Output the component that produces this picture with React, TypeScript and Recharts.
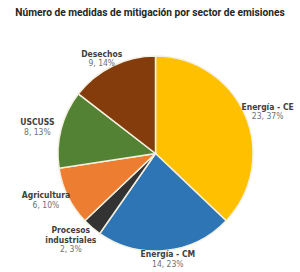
import { Cell, Pie, PieChart } from "recharts";

const categories = ["Energía - CE", "Energía - CM", "Procesos\nindustriales", "Agricultura", "USCUSS", "Desechos"];
const counts = [23, 14, 2, 6, 8, 9];
const pctLabels = ["37%", "23%", "3%", "10%", "13%", "14%"];
const colors = ["#FFC000", "#2E75B6", "#333333", "#ED7D31", "#548235", "#843C0C"];

const data = categories.map((name, i) => ({ name, value: counts[i], pct: pctLabels[i] }));

const RADIAN = Math.PI / 180;
const FONT = "'Liberation Sans Narrow', 'DejaVu Sans Condensed', Roboto, sans-serif";

function renderLabel(props: any) {
  const { cx, cy, midAngle, index } = props;
  const lines = data[index].name.split("\n");
  const all = [...lines, `${data[index].value}, ${data[index].pct}`];
  const push = (all.length - 2) * 8;
  const x = cx + (122 + push) * Math.cos(-midAngle * RADIAN);
  const y = cy + (106 + push) * Math.sin(-midAngle * RADIAN);
  const lh = 9.5;
  const top = y - ((all.length - 1) * lh) / 2 + 3;
  return (
    <text textAnchor="middle" fontSize={8.5} fontFamily={FONT}>
      {all.map((t, k) => (
        <tspan
          key={k}
          x={x}
          y={top + k * lh}
          fill={k < lines.length ? "#404040" : "#6f6f6f"}
          fontWeight={k < lines.length ? 700 : 400}
        >
          {t}
        </tspan>
      ))}
    </text>
  );
}

export default function App() {
  return (
    <div style={{ position: "absolute", left: 0, top: 0, width: 300, height: 272, background: "#ffffff" }}>
      <div
        style={{
          position: "absolute",
          top: 7,
          width: 300,
          textAlign: "center",
          whiteSpace: "nowrap",
          fontFamily: "Roboto, sans-serif",
          fontWeight: 700,
          fontSize: 10.2,
          color: "#262626",
        }}
      >
        Número de medidas de mitigación por sector de emisiones
      </div>
      <PieChart width={300} height={272} margin={{ top: 0, right: 0, bottom: 0, left: 0 }}>
        <Pie
          data={data}
          dataKey="value"
          cx={155.5}
          cy={153.5}
          outerRadius={97.5}
          startAngle={90}
          endAngle={-270}
          stroke="#f4f0e0"
          strokeWidth={1.5}
          label={renderLabel}
          labelLine={false}
          isAnimationActive={false}
        >
          {data.map((d, i) => (
            <Cell key={d.name} fill={colors[i]} />
          ))}
        </Pie>
      </PieChart>
    </div>
  );
}
